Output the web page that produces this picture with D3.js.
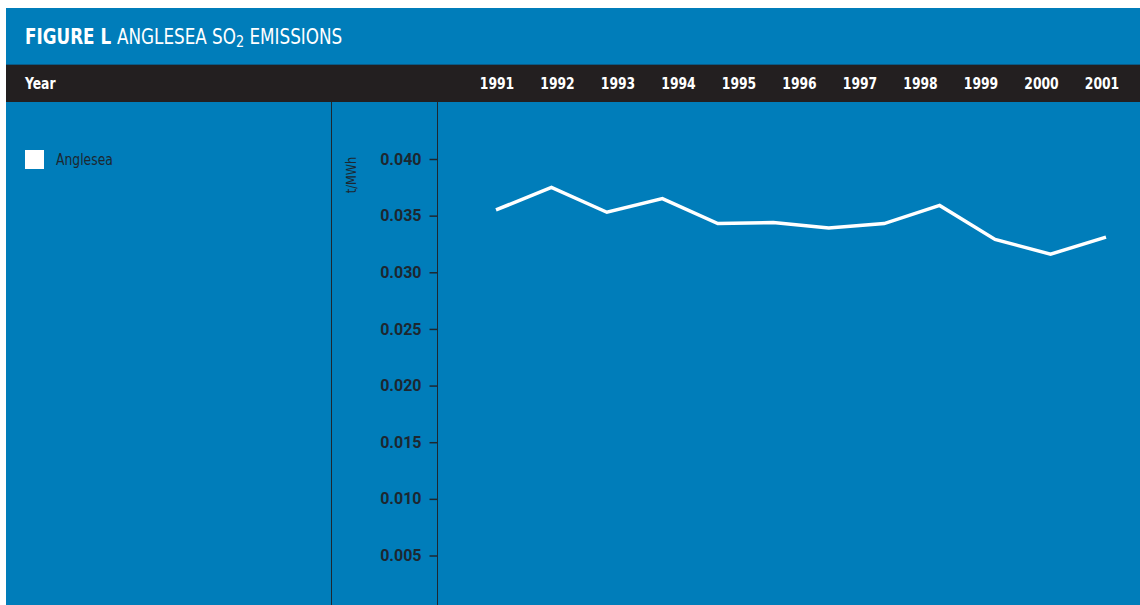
<!DOCTYPE html>
<html>
<head>
<meta charset="utf-8">
<script src="https://cdn.jsdelivr.net/npm/d3@7"></script>
<style>
  html, body { margin: 0; padding: 0; background: #ffffff; }
  svg { display: block; }
  .cond { font-family: "DejaVu Sans Condensed", "DejaVu Sans", sans-serif; font-stretch: condensed; }
  .tick text { font-family: Roboto, "Liberation Sans", sans-serif; font-weight: bold; }
</style>
</head>
<body>
<div id="chart"></div>
<script>
// ------------------------------------------------------
// DATA
// ------------------------------------------------------

var years = ['1991', '1992', '1993', '1994', '1995', '1996', '1997', '1998', '1999', '2000', '2001'];
var emissions = [0.0355, 0.0375, 0.0353, 0.0365, 0.0343, 0.0344, 0.0339, 0.0343, 0.0359, 0.0329, 0.0316, 0.0331];
var yTicks = [0.005, 0.010, 0.015, 0.020, 0.025, 0.030, 0.035, 0.040];
var seriesName = 'Anglesea';

// ------------------------------------------------------
// LAYOUT
// ------------------------------------------------------

var width = 1140, height = 605;
var blue = '#007dba', dark = '#231f20', ink = '#1d2730';

var svg = d3.select('#chart').append('svg')
    .attr('width', width)
    .attr('height', height);

svg.append('rect').attr('x', 6).attr('y', 8).attr('width', width - 6).attr('height', height - 8).attr('fill', blue);
svg.append('rect').attr('x', 6).attr('y', 64).attr('width', width - 6).attr('height', 38).attr('fill', dark);
svg.append('line').attr('x1', 6).attr('x2', width).attr('y1', 64.5).attr('y2', 64.5).attr('stroke', '#0a5a86');

// title (condensed face squeezed a bit more to match the narrow original)
var title = svg.append('text').attr('class', 'cond')
    .attr('transform', 'translate(25,44) scale(0.89,1)')
    .attr('fill', '#fff')
    .style('font-size', '21px');
title.append('tspan').style('font-weight', 'bold').text('FIGURE L ');
title.append('tspan').text('ANGLESEA SO');
title.append('tspan').attr('dy', 3).style('font-size', '16px').text('2');
title.append('tspan').attr('dy', -3).text(' EMISSIONS');

svg.append('text').attr('class', 'cond')
    .attr('transform', 'translate(25,89) scale(0.86,1)')
    .attr('fill', '#fff')
    .style('font-size', '16px').style('font-weight', 'bold')
    .text('Year');

// panel dividers
[331.5, 437.5].forEach(function (x) {
    svg.append('line').attr('x1', x).attr('x2', x).attr('y1', 102).attr('y2', height)
        .attr('stroke', ink).attr('stroke-width', 1);
});

// ------------------------------------------------------
// SCALES & AXES
// ------------------------------------------------------

var xYear = d3.scalePoint().domain(years).range([497, 1102]);
var xLine = d3.scaleLinear().domain([0, emissions.length - 1]).range([496, 1106]);
var y = d3.scaleLinear().domain([0.005, 0.040]).range([555.5, 159]);

svg.append('g').selectAll('text')
    .data(years)
    .join('text')
    .attr('class', 'cond')
    .attr('transform', function (d) { return 'translate(' + xYear(d) + ',89) scale(0.86,1)'; })
    .attr('text-anchor', 'middle')
    .attr('fill', '#fff')
    .style('font-size', '16px').style('font-weight', 'bold')
    .text(function (d) { return d; });

var yAxis = svg.append('g')
    .attr('transform', 'translate(437.5,0)')
    .call(d3.axisLeft(y).tickValues(yTicks).tickFormat(d3.format('.3f')).tickSize(8).tickPadding(8));
yAxis.select('.domain').remove();
yAxis.selectAll('.tick line').attr('stroke', ink).attr('stroke-width', 1.5);
yAxis.selectAll('.tick text').attr('fill', ink).style('font-size', '16px');

svg.append('text')
    .attr('class', 'cond')
    .attr('transform', 'translate(356,175) rotate(-90) scale(0.9,1)')
    .attr('text-anchor', 'middle')
    .attr('fill', ink)
    .style('font-size', '14px')
    .text('t/MWh');

// ------------------------------------------------------
// LINE
// ------------------------------------------------------

var line = d3.line()
    .x(function (d, i) { return xLine(i); })
    .y(function (d) { return y(d); });

svg.append('path')
    .datum(emissions)
    .attr('d', line)
    .attr('fill', 'none')
    .attr('stroke', '#fff')
    .attr('stroke-width', 3.5)
    .attr('stroke-linejoin', 'miter');

// ------------------------------------------------------
// LEGEND
// ------------------------------------------------------

svg.append('rect').attr('x', 25).attr('y', 150).attr('width', 19).attr('height', 19).attr('fill', '#fff');
svg.append('text').attr('class', 'cond')
    .attr('transform', 'translate(56,165) scale(0.86,1)')
    .attr('fill', ink)
    .style('font-size', '16px')
    .text(seriesName);
</script>
</body>
</html>
